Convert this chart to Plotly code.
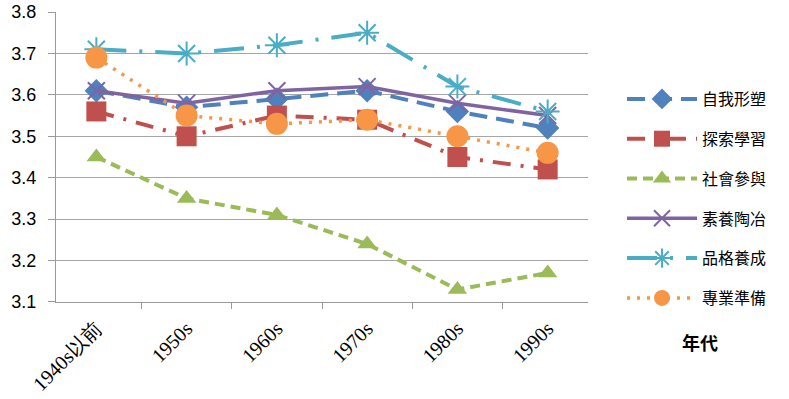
import plotly.graph_objects as go

categories = ["1940s以前", "1950s", "1960s", "1970s", "1980s", "1990s"]
series_names = ["自我形塑", "探索學習", "社會參與", "素養陶冶", "品格養成", "專業準備"]
self_shaping = [3.61, 3.57, 3.59, 3.61, 3.56, 3.52]
explore_learn = [3.56, 3.50, 3.55, 3.54, 3.45, 3.42]
social_part = [3.45, 3.35, 3.31, 3.24, 3.13, 3.17]
literacy = [3.61, 3.58, 3.61, 3.62, 3.58, 3.55]
character = [3.71, 3.70, 3.72, 3.75, 3.62, 3.56]
professional = [3.69, 3.55, 3.53, 3.54, 3.50, 3.46]
y_ticks = [3.1, 3.2, 3.3, 3.4, 3.5, 3.6, 3.7, 3.8]

values = [self_shaping, explore_learn, social_part, literacy, character, professional]
colors = ["#4F81BD", "#C0504D", "#9BBB59", "#8064A2", "#4BACC6", "#F79646"]
dashes = ["18px,9px", "18px,10px,3px,10px", "10px,6px", "solid", "30px,13px,3px,13px", "3px,7px"]
widths = [4, 4, 4, 3.5, 4, 3.5]
symbols = ["diamond", "square", "triangle-up", "x-thin-open", "asterisk-open", "circle"]
sizes = [18, 20, 17, 17, 20, 22]

fig = go.Figure()
for i, name in enumerate(series_names):
    open_sym = symbols[i].endswith("open")
    fig.add_trace(go.Scatter(
        x=categories, y=values[i], name=name, mode="lines+markers",
        legendgroup=f"g{i}",
        line=dict(color=colors[i], width=widths[i], dash=dashes[i]),
        marker=dict(symbol=symbols[i], size=sizes[i], color=colors[i],
                    line=dict(color=colors[i], width=2 if open_sym else 0)),
    ))

W, H = 789, 399
L, T = 56, 12
PW, PH = 532, 290
R, B = W - L - PW, H - T - PH

fig.update_layout(
    template="none",
    width=W, height=H,
    margin=dict(l=L, r=R, t=T, b=B, pad=0),
    paper_bgcolor="white", plot_bgcolor="white",
    showlegend=True,
    legend=dict(x=(622 - L) / PW, xanchor="left", y=(H - B - 82) / PH, yanchor="top",
                font=dict(family="Noto Sans CJK TC", size=16, color="#000"),
                tracegroupgap=16, itemwidth=70, bgcolor="rgba(0,0,0,0)"),
    xaxis=dict(
        type="category", tickangle=-45, tickson="boundaries",
        ticks="outside", ticklen=6, tickcolor="#999",
        showline=True, linecolor="#999", linewidth=1,
        showgrid=False, automargin=False, ticklabelstandoff=6,
        tickfont=dict(family="Liberation Serif", size=20, color="#000"),
    ),
    yaxis=dict(
        range=[3.0999, 3.8001], tickvals=y_ticks, tickformat=".1f",
        ticks="outside", ticklen=7, tickcolor="#999",
        showline=True, linecolor="#999", linewidth=1,
        showgrid=True, gridcolor="#a6a6a6", gridwidth=1,
        zeroline=False, automargin=False, ticklabeloverflow="allow",
        ticklabelstandoff=8,
        tickfont=dict(family="Liberation Sans", size=18, color="#000"),
    ),
    annotations=[dict(text="<b>年代</b>", x=(700 - L) / PW, y=(H - B - 342) / PH,
                      xref="paper", yref="paper", xanchor="center", yanchor="middle",
                      showarrow=False, font=dict(family="Noto Sans CJK TC", size=18, color="#000"))],
)
fig.write_html("out.html", config={"displayModeBar": False},
               post_script="document.body.style.margin='0';")
